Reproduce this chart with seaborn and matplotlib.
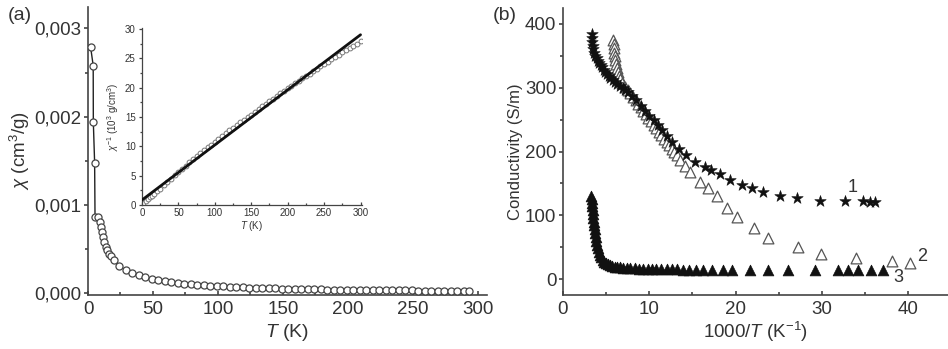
import matplotlib
matplotlib.use("Agg")
import matplotlib.pyplot as plt
import matplotlib.ticker as mticker
import seaborn as sns
import pandas as pd

# ---------------- data: panel (a) main, chi vs T ----------------
T_a = [2.0, 4.0, 4.1, 5.1, 5.4, 7.7, 9.0, 9.8, 10.5, 11.6, 12.3, 13.6, 14.9, 16.2, 17.5, 20.0,
       24, 29, 34, 39, 44, 49, 54, 59, 64, 69, 74, 79, 84, 89, 94, 99, 104, 109, 114, 119,
       124, 129, 134, 139, 144, 149, 154, 159, 164, 169, 174, 179, 184, 189, 194, 199, 204,
       209, 214, 219, 224, 229, 234, 239, 244, 249, 254, 259, 264, 269, 274, 279, 284, 289, 293]
chi_a = [0.00279, 0.00258, 0.00194, 0.00148, 0.00087, 0.00087, 0.00081, 0.00075, 0.00070,
         0.00064, 0.00058, 0.00053, 0.00049, 0.00045, 0.00042, 0.00038,
         0.00031, 0.000265, 0.00023, 0.000205, 0.000183, 0.000165, 0.00015, 0.000138,
         0.000128, 0.000119, 0.000111, 0.000104, 0.000098, 0.000093, 0.000088, 0.000084,
         0.00008, 0.000076, 0.000073, 0.00007, 0.000067, 0.000064, 0.000062, 0.00006,
         0.000058, 0.000056, 0.000054, 0.000052, 0.000051, 0.000049, 0.000048, 0.000047,
         0.000045, 0.000044, 0.000043, 0.000042, 0.000041, 0.00004, 0.000039, 0.000038,
         0.000037, 0.000036, 0.000036, 0.000035, 0.000034, 0.000034, 0.000033, 0.000032,
         0.000032, 0.000031, 0.000031, 0.00003, 0.00003, 0.000029, 0.000029]

# ---------------- data: panel (a) inset, 1/chi vs T ----------------
T_in = [2, 5, 8, 11, 14, 17, 20, 25, 30, 35, 40, 45, 50, 55, 60, 65, 70, 75, 80, 85, 90, 95,
        100, 105, 110, 115, 120, 125, 130, 135, 140, 145, 150, 155, 160, 165, 170, 175, 180,
        185, 190, 195, 200, 205, 210, 215, 220, 225, 230, 235, 240, 245, 250, 255, 260, 265,
        270, 275, 280, 285, 290, 295, 300]
chiinv_in = [0.4, 0.6, 1.0, 1.3, 1.6, 1.9, 2.3, 2.8, 3.4, 3.9, 4.5, 5.1, 5.7, 6.2, 6.7, 7.3,
             7.8, 8.3, 8.8, 9.3, 9.8, 10.3, 10.8, 11.3, 11.8, 12.3, 12.7, 13.2, 13.6, 14.1,
             14.5, 15.0, 15.4, 15.9, 16.3, 16.8, 17.2, 17.7, 18.1, 18.6, 19.0, 19.5, 19.9,
             20.3, 20.7, 21.1, 21.6, 22.0, 22.4, 22.8, 23.2, 23.6, 24.0, 24.4, 24.8, 25.2,
             25.6, 26.0, 26.4, 26.7, 27.1, 27.5, 27.9]
fit_T = [0, 300]
fit_chiinv = [0.85, 29.0]

# ---------------- data: panel (b), conductivity vs 1000/T ----------------
x1 = [3.33, 3.36, 3.40, 3.45, 3.52, 3.62, 3.75, 3.90, 4.05, 4.20, 4.35, 4.50, 4.70, 4.90,
      5.10, 5.30, 5.50, 5.75, 6.00, 6.30, 6.60, 6.90, 7.20, 7.50, 8.00, 8.50, 9.00, 9.50,
      10.0, 10.5, 11.0, 11.5, 12.0, 12.6, 13.4, 14.3, 15.3, 16.5, 17.2, 18.2, 19.4, 20.7,
      21.9, 23.2, 25.1, 27.1, 29.8, 32.7, 34.8, 35.6, 36.1]
y1 = [385, 378, 372, 366, 360, 355, 350, 346, 342, 338, 335, 332, 328, 325, 321, 318, 315,
      312, 309, 306, 303, 299, 296, 293, 287, 280, 272, 264, 256, 249, 241, 233, 225, 215,
      204, 194, 184, 175, 171, 164, 156, 148, 143, 137, 130, 127, 123, 123, 122, 121, 121]

x2 = [5.83, 5.86, 5.90, 5.95, 6.00, 6.07, 6.15, 6.25, 6.35, 6.50, 6.65, 6.85, 7.2, 7.5, 7.8,
      8.1, 8.4, 8.7, 9.0, 9.3, 9.6, 9.9, 10.2, 10.5, 10.8, 11.1, 11.4, 11.7, 12.0, 12.3,
      12.6, 12.9, 13.2, 13.6, 14.1, 14.7, 15.9, 16.8, 17.8, 19.0, 20.1, 22.1, 23.8, 27.2,
      29.9, 34.0, 38.1, 40.2]
y2 = [375, 368, 362, 355, 349, 343, 337, 331, 325, 319, 313, 308, 301, 296, 291, 286, 280,
      275, 270, 264, 259, 253, 248, 242, 237, 231, 226, 220, 215, 210, 204, 199, 194, 187,
      178, 168, 152, 142, 130, 112, 97, 80, 64, 50, 40, 33, 28, 25]

x3 = [3.30, 3.32, 3.35, 3.38, 3.42, 3.46, 3.50, 3.55, 3.60, 3.66, 3.72, 3.80, 3.88, 3.97,
      4.07, 4.18, 4.30, 4.45, 4.60, 4.78, 4.97, 5.20, 5.45, 5.70, 6.00, 6.30, 6.65, 7.00,
      7.40, 7.80, 8.30, 8.80, 9.30, 9.80, 10.3, 10.8, 11.4, 12.0, 12.6, 13.2, 13.9, 14.6,
      15.4, 16.2, 17.3, 18.5, 19.6, 21.7, 23.8, 26.1, 29.2, 31.9, 33.0, 34.2, 35.7, 37.1]
y3 = [130, 125, 120, 114, 108, 102, 96, 90, 84, 78, 72, 66, 60, 54, 48, 43, 38, 34, 30, 27,
      25, 23, 21.5, 20.5, 19.5, 19, 18.5, 18, 17.5, 17, 16.8, 16.5, 16.2, 16, 15.8, 15.6,
      15.4, 15.2, 15, 15, 14.8, 14.7, 14.6, 14.5, 14.4, 14.3, 14.2, 14, 14, 14, 14, 14, 14,
      14, 14, 14]

curve_labels = ["1", "2", "3"]
label_pos_x = [33.5, 41.6, 38.9]
label_pos_y = [143, 35, 2]

# ---------------- style ----------------
sns.set_style("ticks")
plt.rcParams["font.family"] = ["Liberation Sans", "DejaVu Sans"]
plt.rcParams["mathtext.fontset"] = "custom"
plt.rcParams["mathtext.it"] = "Liberation Sans:italic"
plt.rcParams["mathtext.rm"] = "Liberation Sans"
INK = "#222222"
SPINE = "#444444"
TXT = "#333333"

fig = plt.figure(figsize=(9.48, 3.49), dpi=100)


def style_axes(ax, fs=10, lw=1.2, major_len=3.2, minor_len=2.0, ypad=1.5, xpad=4):
    sns.despine(ax=ax)
    for s in ("left", "bottom"):
        ax.spines[s].set_color(SPINE)
        ax.spines[s].set_linewidth(lw)
    ax.tick_params(axis="y", which="both", direction="out", colors=SPINE,
                   labelcolor=TXT, labelsize=fs, width=lw, pad=ypad)
    ax.tick_params(axis="x", which="both", direction="in", colors=SPINE,
                   labelcolor=TXT, labelsize=fs, width=lw, pad=xpad)
    ax.tick_params(which="major", length=major_len)
    ax.tick_params(which="minor", length=minor_len)


comma = mticker.FuncFormatter(lambda v, p: f"{v:.3f}".replace(".", ","))

# ---- panel (a) main ----
axA = fig.add_axes([88 / 948, 54 / 349, 399 / 948, 288 / 349])
dfa = pd.DataFrame({"T": T_a, "chi": chi_a})
sns.lineplot(data=dfa, x="T", y="chi", ax=axA, color=INK, lw=1.0, sort=False,
             estimator=None, zorder=2)
sns.scatterplot(data=dfa, x="T", y="chi", ax=axA, marker="o", s=26,
                facecolor="white", edgecolor="#444444", linewidth=0.9, zorder=3)
axA.set_xlim(0, 307)
axA.set_ylim(-0.000017, 0.003243)
axA.xaxis.set_major_locator(mticker.MultipleLocator(50))
axA.xaxis.set_minor_locator(mticker.MultipleLocator(25))
axA.yaxis.set_major_locator(mticker.MultipleLocator(0.001))
axA.yaxis.set_minor_locator(mticker.MultipleLocator(0.0005))
axA.yaxis.set_major_formatter(comma)
style_axes(axA, fs=13.5)
axA.set_xlabel(r"$\mathit{T}$ (K)", fontsize=14, color=TXT)
axA.set_ylabel(r"$\chi$ (cm$^3$/g)", fontsize=13.5, color=TXT)
axA.yaxis.set_label_coords((32 - 88) / 399, 0.5)
axA.xaxis.set_label_coords(0.5, -(322 - 295) / 288)
fig.text(20 / 948, 1 - 15 / 349, "(a)", fontsize=14, color=TXT, ha="center", va="center")

# ---- panel (a) inset ----
axI = fig.add_axes([142 / 948, 144 / 349, 220 / 948, 176.7 / 349])
dfi = pd.DataFrame({"T": T_in, "chiinv": chiinv_in})
dff = pd.DataFrame({"T": fit_T, "chiinv": fit_chiinv})
sns.scatterplot(data=dfi, x="T", y="chiinv", ax=axI, marker="o", s=12,
                facecolor="white", edgecolor="#777777", linewidth=0.7, zorder=2)
sns.lineplot(data=dff, x="T", y="chiinv", ax=axI, color="#111111", lw=2.0, zorder=3)
axI.set_xlim(0, 302)
axI.set_ylim(0, 30.1)
axI.xaxis.set_major_locator(mticker.MultipleLocator(50))
axI.xaxis.set_minor_locator(mticker.MultipleLocator(25))
axI.yaxis.set_major_locator(mticker.MultipleLocator(5))
axI.yaxis.set_minor_locator(mticker.MultipleLocator(2.5))
style_axes(axI, fs=7, lw=0.9, major_len=2.5, minor_len=1.5, ypad=2, xpad=2)
axI.set_xlabel(r"$\mathit{T}$ (K)", fontsize=7, color=TXT, labelpad=1)
axI.set_ylabel(r"$\chi^{-1}$ (10$^3$ g/cm$^3$)", fontsize=7, color=TXT, labelpad=3)
axI.patch.set_alpha(0)

# ---- panel (b) ----
axB = fig.add_axes([563 / 948, 54 / 349, 385 / 948, 287 / 349])
d1 = pd.DataFrame({"x": x1, "y": y1})
d2 = pd.DataFrame({"x": x2, "y": y2})
d3 = pd.DataFrame({"x": x3, "y": y3})
sns.scatterplot(data=d3, x="x", y="y", ax=axB, marker="^", s=60, color="#111111",
                edgecolor="#111111", linewidth=0.5, zorder=2)
sns.scatterplot(data=d2, x="x", y="y", ax=axB, marker="^", s=60, facecolor="white",
                edgecolor="#555555", linewidth=0.9, zorder=3)
sns.scatterplot(data=d1, x="x", y="y", ax=axB, marker="*", s=75, color="#111111",
                edgecolor="#111111", linewidth=0.4, zorder=4)
axB.set_xlim(0, 44.6)
axB.set_ylim(-25, 425)
axB.xaxis.set_major_locator(mticker.MultipleLocator(10))
axB.xaxis.set_minor_locator(mticker.MultipleLocator(5))
axB.yaxis.set_major_locator(mticker.MultipleLocator(100))
axB.yaxis.set_minor_locator(mticker.MultipleLocator(50))
style_axes(axB, fs=13.5)
axB.set_xlabel(r"1000/$\mathit{T}$ (K$^{-1}$)", fontsize=13.5, color=TXT)
axB.set_ylabel("Conductivity (S/m)", fontsize=12, color=TXT)
axB.yaxis.set_label_coords((523 - 563) / 385, 0.5)
axB.xaxis.set_label_coords(0.5, -(320 - 295) / 287)
for lab, lx, ly in zip(curve_labels, label_pos_x, label_pos_y):
    axB.text(lx, ly, lab, fontsize=13, color=TXT, ha="center", va="center")
fig.text(505 / 948, 1 - 15 / 349, "(b)", fontsize=14, color=TXT, ha="center", va="center")

fig.savefig("out.png", dpi=100)
